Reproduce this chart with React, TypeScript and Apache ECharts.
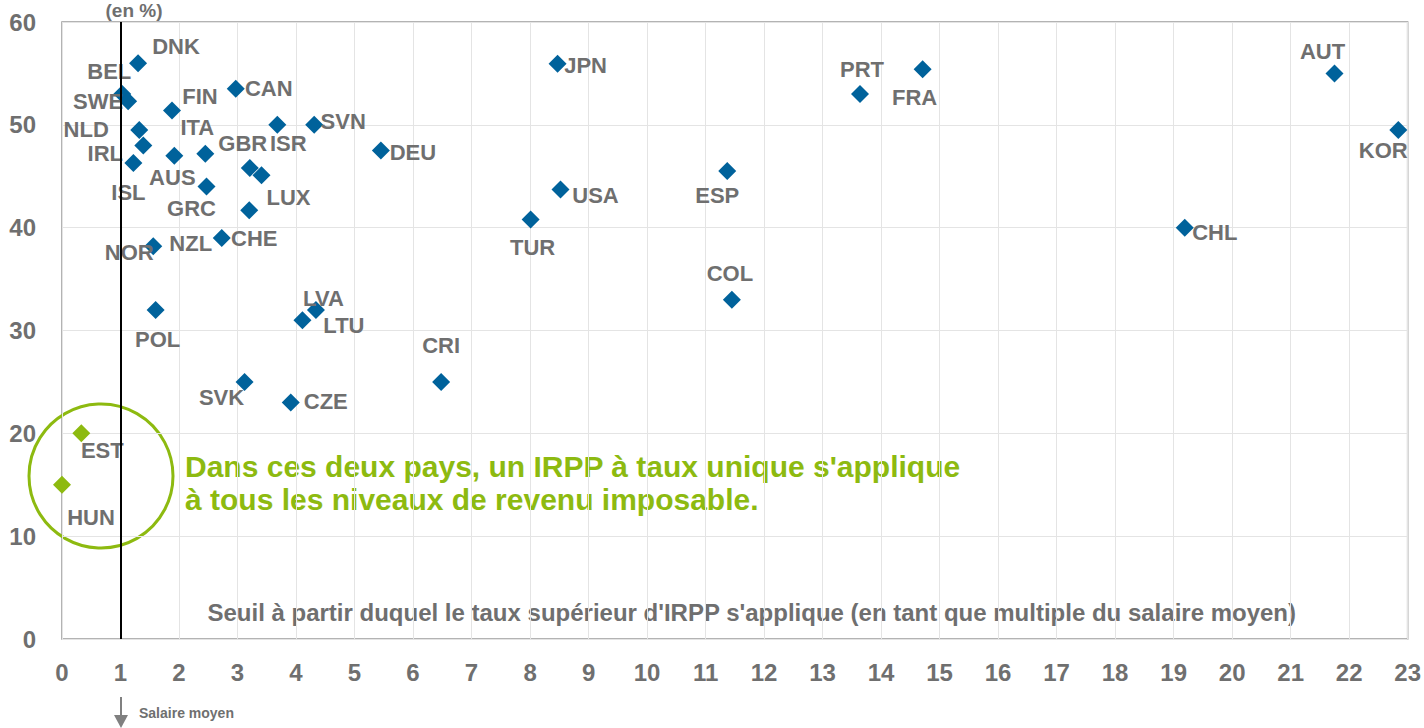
import React, { useEffect, useRef } from "react";
import * as echarts from "echarts";

// ---- Data ----
const countries = [
  "DNK", "BEL", "SWE", "FIN", "NLD", "IRL", "ISL", "AUS", "ITA", "GBR",
  "LUX", "GRC", "CHE", "NZL", "NOR", "CAN", "ISR", "SVN", "DEU", "JPN",
  "USA", "TUR", "ESP", "COL", "PRT", "FRA", "AUT", "KOR", "CHL", "LVA",
  "LTU", "POL", "SVK", "CZE", "CRI",
];
// Threshold (multiple of average wage)
const thresholds = [
  1.30, 1.03, 1.13, 1.88, 1.32, 1.39, 1.22, 1.92, 2.45, 3.21,
  3.41, 2.47, 3.20, 2.73, 1.56, 2.97, 3.68, 4.31, 5.45, 8.47,
  8.52, 8.01, 11.37, 11.45, 13.64, 14.71, 21.75, 22.84, 19.19, 4.11,
  4.34, 1.60, 3.12, 3.91, 6.48,
];
// Top PIT rate (%)
const topRates = [
  56.0, 53.0, 52.3, 51.4, 49.5, 48.0, 46.3, 47.0, 47.2, 45.8,
  45.1, 44.0, 41.7, 39.0, 38.2, 53.5, 50.0, 50.0, 47.5, 55.95,
  43.7, 40.8, 45.5, 33.0, 53.0, 55.4, 55.0, 49.5, 40.0, 31.0,
  32.0, 32.0, 25.0, 23.0, 25.0,
];
const flatCountries = ["EST", "HUN"];
const flatThresholds = [0.33, 0];
const flatRates = [20, 15];

const xTickMax = 23;
const yTickMax = 60;
const averageWageMultiple = 1;

const yAxisTitle = "(en %)";
const xAxisTitle =
  "Seuil à partir duquel le taux supérieur d'IRPP s'applique (en tant que multiple du salaire moyen)";
const noteLine1 = "Dans ces deux pays, un IRPP à taux unique s'applique";
const noteLine2 = "à tous les niveaux de revenu imposable.";
const avgWageLabel = "Salaire moyen";

// ---- Layout (label offsets in px relative to marker centre) ----
const labelOffsets: Record<string, [number, number]> = {
  DNK: [38, -17], BEL: [-13, -22], SWE: [-30, 0], FIN: [28, -14], NLD: [-53, 0],
  IRL: [-38, 8], ISL: [-5, 30], AUS: [-2, 22], ITA: [-8, -26], GBR: [-7, -25],
  LUX: [27, 22], GRC: [-15, 22], CHE: [5, 28], NZL: [-31, 6], NOR: [-24, 6],
  CAN: [33, 0], ISR: [11, 19], SVN: [29, -3], DEU: [32, 2], JPN: [28, 2],
  USA: [35, 6], TUR: [2, 28], ESP: [-10, 24], COL: [-2, -26], PRT: [2, -24],
  FRA: [-8, 28], AUT: [-12, -22], KOR: [-15, 21], CHL: [30, 5], LVA: [21, -22],
  LTU: [28, 16], POL: [2, 30], SVK: [-23, 16], CZE: [35, -1], CRI: [0, -36],
  EST: [21, 17], HUN: [29, 33],
};

const FONT = '"Liberation Sans", Arial, sans-serif';
const GRAY = "#6f6f6f";
const BLUE = "#00629b";
const GREEN = "#8dba10";

export default function App() {
  const ref = useRef<HTMLDivElement>(null);

  useEffect(() => {
    if (!ref.current) return;
    const chart = echarts.init(ref.current, undefined, { renderer: "svg" });

    const mk = (names: string[], xs: number[], ys: number[]) =>
      names.map((n, i) => ({
        name: n,
        value: [xs[i], ys[i]],
        label: { offset: labelOffsets[n] || [0, 0] },
      }));

    const labelBase = {
      show: true,
      position: "inside",
      formatter: (p: any) => p.name,
      color: GRAY,
      fontFamily: FONT,
      fontWeight: "bold",
      fontSize: 22,
      align: "center",
      verticalAlign: "middle",
    };

    chart.setOption({
      animation: false,
      backgroundColor: "#ffffff",
      textStyle: { fontFamily: FONT },
      grid: {
        left: 62,
        right: 16,
        top: 22,
        bottom: 89,
        show: true,
        borderColor: "#9a9a9a",
        borderWidth: 1.5,
        containLabel: false,
      },
      xAxis: {
        type: "value",
        min: 0,
        max: xTickMax,
        interval: 1,
        axisLine: { show: false },
        axisTick: { show: false },
        splitLine: { show: true, lineStyle: { color: "#e4e4e4", width: 1 } },
        axisLabel: {
          color: GRAY,
          fontFamily: FONT,
          fontWeight: "bold",
          fontSize: 24,
          margin: 21,
        },
      },
      yAxis: {
        type: "value",
        min: 0,
        max: yTickMax,
        interval: 10,
        axisLine: { show: false },
        axisTick: { show: false },
        splitLine: { show: true, lineStyle: { color: "#e4e4e4", width: 1 } },
        axisLabel: {
          color: GRAY,
          fontFamily: FONT,
          fontWeight: "bold",
          fontSize: 24,
          margin: 26,
        },
      },
      series: [
        {
          type: "scatter",
          symbol: "diamond",
          symbolSize: 18,
          itemStyle: { color: BLUE, opacity: 1 },
          label: labelBase,
          data: mk(countries, thresholds, topRates),
          z: 3,
          markLine: {
            silent: true,
            symbol: "none",
            label: { show: false },
            lineStyle: { color: "#000000", width: 2, type: "solid" },
            data: [{ xAxis: averageWageMultiple }],
          },
        },
        {
          type: "scatter",
          symbol: "diamond",
          symbolSize: 18,
          itemStyle: { color: GREEN, opacity: 1 },
          label: labelBase,
          data: mk(flatCountries, flatThresholds, flatRates),
          z: 3,
        },
      ],
      graphic: [
        {
          type: "text",
          x: 134,
          y: 1,
          style: {
            text: yAxisTitle,
            fill: GRAY,
            font: `bold 19px ${FONT}`,
            align: "center",
            verticalAlign: "top",
          },
        },
        {
          type: "text",
          x: 1296,
          y: 612,
          style: {
            text: xAxisTitle,
            fill: GRAY,
            font: `bold 24px ${FONT}`,
            align: "right",
            verticalAlign: "middle",
          },
        },
        {
          type: "circle",
          shape: { cx: 101, cy: 476, r: 72 },
          style: { fill: "none", stroke: GREEN, lineWidth: 3 },
        },
        {
          type: "text",
          x: 185,
          y: 466,
          style: {
            text: noteLine1,
            fill: GREEN,
            font: `bold 30px ${FONT}`,
            align: "left",
            verticalAlign: "middle",
          },
        },
        {
          type: "text",
          x: 185,
          y: 499,
          style: {
            text: noteLine2,
            fill: GREEN,
            font: `bold 30px ${FONT}`,
            align: "left",
            verticalAlign: "middle",
          },
        },
        {
          type: "line",
          shape: { x1: 121, y1: 697, x2: 121, y2: 719 },
          style: { stroke: "#808080", lineWidth: 2 },
        },
        {
          type: "polygon",
          shape: { points: [[114, 715], [128, 715], [121, 728]] },
          style: { fill: "#808080" },
        },
        {
          type: "text",
          x: 139,
          y: 713,
          style: {
            text: avgWageLabel,
            fill: GRAY,
            font: `bold 14px ${FONT}`,
            align: "left",
            verticalAlign: "middle",
          },
        },
      ],
    });

    return () => chart.dispose();
  }, []);

  return (
    <div
      ref={ref}
      style={{ position: "absolute", left: 0, top: 0, width: 1424, height: 728 }}
    />
  );
}
